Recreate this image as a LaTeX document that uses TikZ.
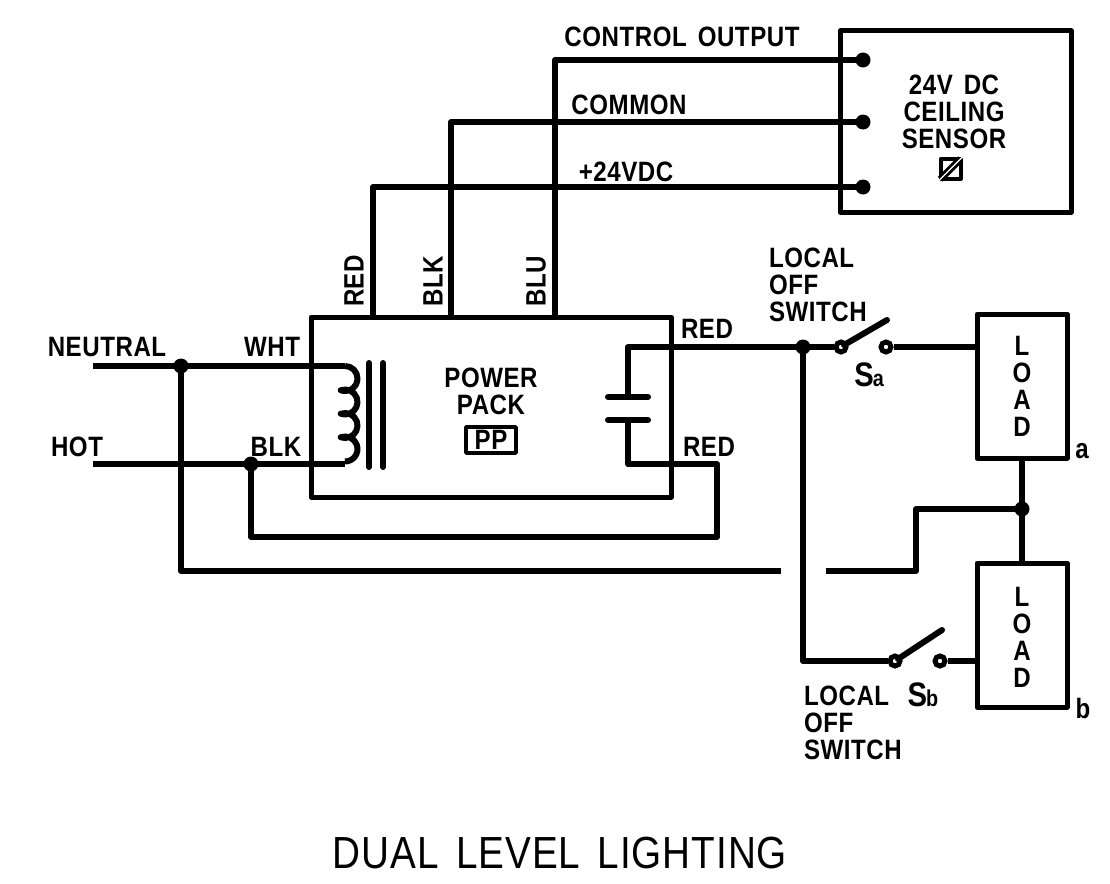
\documentclass[tikz,border=0pt]{standalone}
\usepackage{fontspec}
\newfontfamily\cadfont[FakeStretch=0.86,LetterSpace=2,WordSpace=1.5]{Liberation Sans}
\tikzset{
  wire/.style={line width=6pt, line join=round},
  lab/.style={inner sep=0pt, outer sep=0pt, align=left, font=\cadfont\bfseries\fontsize{28}{27}\selectfont},
  dot/.style={circle, fill=black, inner sep=0pt, minimum size=15pt},
  pole/.style={circle, draw=black, fill=white, line width=5pt, inner sep=0pt, minimum size=10pt},
  box/.style={draw=black, line width=5pt, inner sep=0pt, line join=round}
}
\begin{document}
\begin{tikzpicture}[x=1pt,y=-1pt]
    \useasboundingbox (0,0) rectangle (1110,883);
    % boxes
    \node[box, minimum width=360pt, minimum height=180pt] (pack) at (491,407) {};
    \node[box, minimum width=231pt, minimum height=181pt] (sensor) at (955.5,121.5) {};
    \node[box, minimum width=90pt, minimum height=144pt] (loada) at (1022,386) {};
    \node[box, minimum width=90pt, minimum height=144pt] (loadb) at (1022,635) {};
    % sensor side
    \node[dot] (t1) at (863,60) {};
    \node[dot] (t2) at (863,122) {};
    \node[dot] (t3) at (863,187) {};
    \coordinate (p1) at (555,317);
    \coordinate (p2) at (451,317);
    \coordinate (p3) at (373,317);
    \draw[wire] (p1) |- (t1.center);
    \draw[wire] (p2) |- (t2.center);
    \draw[wire] (p3) |- (t3.center);
    % mains side
    \coordinate (neu) at (93,366);
    \coordinate (hot) at (93,464);
    \coordinate (coilt) at (345,366);
    \coordinate (coilb) at (345,464);
    \node[dot] (n1) at (181,366) {};
    \node[dot] (h1) at (251,464) {};
    \coordinate (gapl) at (781,571);
    \coordinate (gapr) at (826,571);
    \coordinate (ret) at (717,537);
    \coordinate (rett) at (717,464);
    \coordinate (capb) at (628,464);
    \coordinate (capbt) at (628,420);
    \coordinate (capt) at (628,397);
    \coordinate (capc) at (628,347);
    \draw[wire] (neu) -- (coilt);
    \draw[wire] (hot) -- (coilb);
    \draw[wire] (n1.center) |- (gapl);
    \draw[wire] (h1.center) |- (ret) -- (rett) -- (capb) -- (capbt);
    % coil and core
    \draw[wire] (coilt) arc[start angle=90,end angle=-110,radius=12.5pt]
      arc[start angle=110,end angle=-110,radius=12.5pt]
      arc[start angle=110,end angle=-110,radius=12.5pt]
      arc[start angle=110,end angle=-90,radius=12.5pt];
    \coordinate (c1t) at (369,363);
    \coordinate (c1b) at (369,467);
    \coordinate (c2t) at (383,363);
    \coordinate (c2b) at (383,467);
    \draw[wire, line cap=round] (c1t) -- (c1b);
    \draw[wire, line cap=round] (c2t) -- (c2b);
    % capacitor
    \coordinate (pl1) at (608,397);
    \coordinate (pr1) at (648,397);
    \coordinate (pl2) at (608,420);
    \coordinate (pr2) at (648,420);
    \draw[wire, line cap=round] (pl1) -- (pr1);
    \draw[wire, line cap=round] (pl2) -- (pr2);
    % switches
    \node[dot] (j1) at (803,347) {};
    \node[pole] (sa1) at (841,347) {};
    \node[pole] (sa2) at (886,347) {};
    \node[pole] (sb1) at (895,661) {};
    \node[pole] (sb2) at (940,661) {};
    \coordinate (aa) at (887,320);
    \coordinate (ab) at (942,630);
    \coordinate (la) at (977,347);
    \coordinate (lb) at (977,661);
    \draw[wire] (capt) -- (capc) -- (j1.center) -- (sa1);
    \draw[wire] (j1.center) |- (sb1);
    \draw[wire] (sa2) -- (la);
    \draw[wire] (sb2) -- (lb);
    \draw[wire, line cap=round] (sa1.center) ++(3,-2) -- (aa);
    \draw[wire, line cap=round] (sb1.center) ++(3,-2) -- (ab);
    % load return
    \node[dot] (j2) at (1022,509) {};
    \coordinate (st) at (916,509);
    \draw[wire] (loada.south) -- (loadb.north);
    \draw[wire] (j2.center) -- (st) |- (gapr);
    % texts
    \node[lab] (ctl) at (682,37) {CONTROL OUTPUT};
    \node[lab] (com) at (629,105) {COMMON};
    \node[lab] (pos) at (626,172) {+24VDC};
    \node[lab, rotate=90] (w1) at (354,281) {RED};
    \node[lab, rotate=90] (w2) at (433,281) {BLK};
    \node[lab, rotate=90] (w3) at (536,281) {BLU};
    \node[lab] (neut) at (107,347) {NEUTRAL};
    \node[lab] (hotl) at (77,447) {HOT};
    \node[lab] (wht) at (272,347) {WHT};
    \node[lab] (blk) at (276,447) {BLK};
    \node[lab, align=center] (pwr) at (491,391) {POWER\\PACK};
    \node[box, line width=3.5pt, minimum width=50pt, minimum height=26pt, lab] (pp) at (491,440) {PP};
    \node[lab] (r1) at (707,329) {RED};
    \node[lab] (r2) at (709,447) {RED};
    \node[lab, anchor=west] (ofa) at (769,285) {LOCAL\\OFF\\SWITCH};
    \node[lab, anchor=west] (ofb) at (804,723) {LOCAL\\OFF\\SWITCH};
    \node[lab, font=\cadfont\bfseries\fontsize{34}{34}\selectfont] (sa) at (869,375) {S\kern-1pt\fontsize{23}{23}\selectfont a};
    \node[lab, font=\cadfont\bfseries\fontsize{34}{34}\selectfont] (sb) at (923,695) {S\kern-1pt\fontsize{23}{23}\selectfont b};
    \node[lab, align=center] (tla) at (1022,386) {L\\O\\A\\D};
    \node[lab, align=center] (tlb) at (1022,637) {L\\O\\A\\D};
    \node[lab] (a) at (1082,451) {a};
    \node[lab] (b) at (1083,708) {b};
    \node[lab, align=center] (sens) at (954,112) {24V DC\\CEILING\\SENSOR};
    % sensor symbol
    \node[box, line width=4pt, minimum size=20pt] (sym) at (950.5,169) {};
    \draw[line width=7pt, shorten >=2.5pt, shorten <=2.5pt] (sym.south west) -- (sym.north east);
    \draw[white, line width=1.2pt] (sym.south west) -- (sym.north east);
    \node[lab, font=\cadfont\fontsize{45}{45}\selectfont] (title) at (560,853) {DUAL LEVEL LIGHTING};
\end{tikzpicture}
\end{document}
